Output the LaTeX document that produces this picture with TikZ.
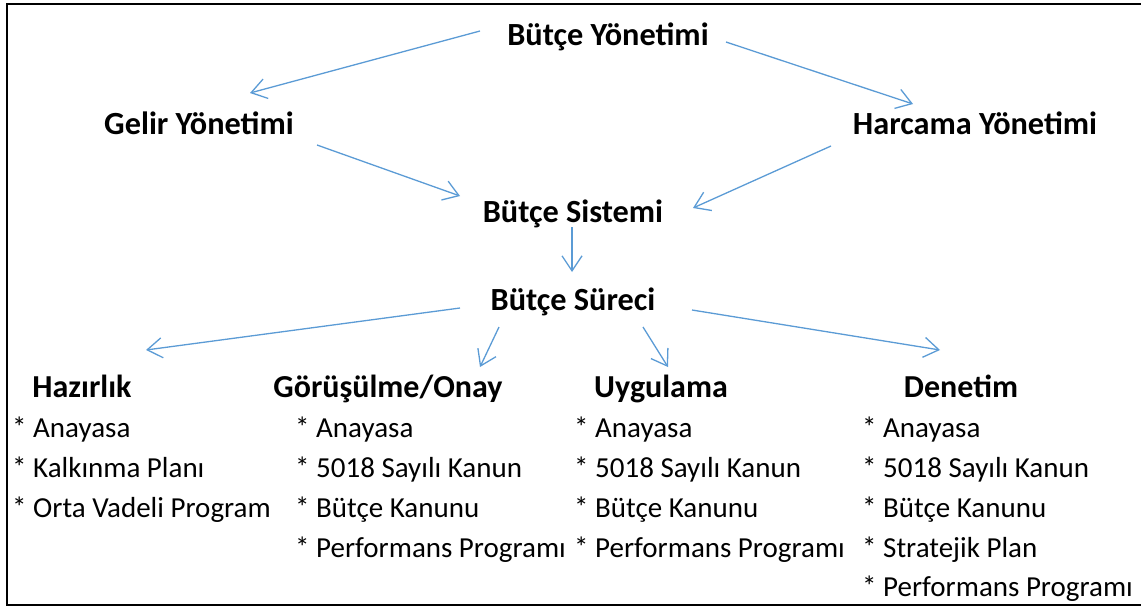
\documentclass[tikz,border=0pt]{standalone}
\usepackage{fontspec}
\setmainfont{Carlito}
\usetikzlibrary{arrows.meta}
\definecolor{okmavi}{RGB}{91,155,213}
\begin{document}
\begin{tikzpicture}[x=1pt,y=-1pt,
	ust/.style={anchor=base,inner sep=0pt,font=\bfseries\fontsize{32.3}{39}\selectfont},
	alt/.style={anchor=base,inner sep=0pt,font=\bfseries\fontsize{32}{38}\selectfont},
	madde/.style={anchor=base west,inner sep=0pt,font=\fontsize{29}{35}\selectfont},
	ok/.style={draw=okmavi,line width=1.3pt,-{Straight Barb[length=15pt,width=20pt,line width=1.3pt]}}]
	\useasboundingbox (0,0) rectangle (1141,608);
	\draw[line width=2.2pt] (1141,4)--(7,4)--(7,605)--(1141,605);
	\node[ust] (byon) at (608,45) {Bütçe Yönetimi};
	\node[ust] (gelir) at (199,134) {Gelir Yönetimi};
	\node[ust] (harc) at (975,134) {Harcama Yönetimi};
	\node[ust] (sist) at (573,222) {Bütçe Sistemi};
	\node[ust] (surec) at (573,310) {Bütçe Süreci};
	\node[alt] (haz) at (82,397) {Hazırlık};
	\node[alt] (gor) at (388,397) {Görüşülme/Onay};
	\node[alt] (uyg) at (661,397) {Uygulama};
	\node[alt] (den) at (961,397) {Denetim};
	\node[madde] (haz1) at (12,437) {* Anayasa};
	\node[madde] (haz2) at (12,477) {* Kalkınma Planı};
	\node[madde] (haz3) at (12,517) {* Orta Vadeli Program};
	\node[madde] (gor1) at (295,437) {* Anayasa};
	\node[madde] (gor2) at (295,477) {* 5018 Sayılı Kanun};
	\node[madde] (gor3) at (295,517) {* Bütçe Kanunu};
	\node[madde] (gor4) at (295,557) {* Performans Programı};
	\node[madde] (uyg1) at (574,437) {* Anayasa};
	\node[madde] (uyg2) at (574,477) {* 5018 Sayılı Kanun};
	\node[madde] (uyg3) at (574,517) {* Bütçe Kanunu};
	\node[madde] (uyg4) at (574,557) {* Performans Programı};
	\node[madde] (den1) at (862,437) {* Anayasa};
	\node[madde] (den2) at (862,477) {* 5018 Sayılı Kanun};
	\node[madde] (den3) at (862,517) {* Bütçe Kanunu};
	\node[madde] (den4) at (862,557) {* Stratejik Plan};
	\node[madde] (den5) at (862,596) {* Performans Programı};
	% oklar
	\draw[ok] ([shift={(-128,-14)}]byon.base)--([shift={(51,-41)}]gelir.base);
	\draw[ok] ([shift={(118,-3)}]byon.base)--([shift={(-62,-30)}]harc.base);
	\draw[ok] ([shift={(118,11)}]gelir.base)--([shift={(-113,-26)}]sist.base);
	\draw[ok] ([shift={(-144,12)}]harc.base)--([shift={(120,-14)}]sist.base);
	\draw[ok] ([shift={(-1,5)}]sist.base)--([shift={(-1,-38)}]surec.base);
	\draw[ok] ([shift={(-113,-2)}]surec.base)--([shift={(64,-47)}]haz.base);
	\draw[ok] ([shift={(-74,17)}]surec.base)--([shift={(92,-30)}]gor.base);
	\draw[ok] ([shift={(70,17)}]surec.base)--([shift={(7,-30)}]uyg.base);
	\draw[ok] ([shift={(119,0)}]surec.base)--([shift={(-21,-47)}]den.base);
\end{tikzpicture}
\end{document}
